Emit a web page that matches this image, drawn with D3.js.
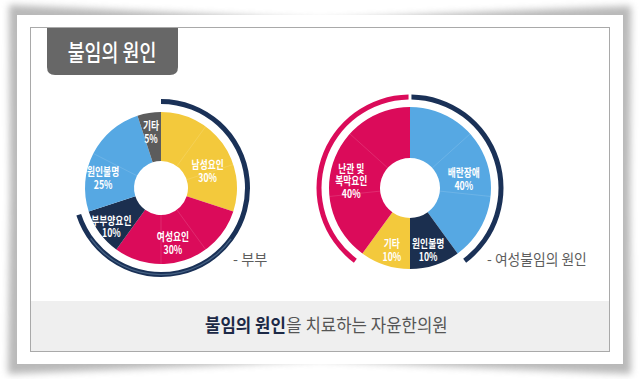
<!DOCTYPE html>
<html><head><meta charset="utf-8">
<script src="https://cdn.jsdelivr.net/npm/d3@7"></script>
<style>html,body{margin:0;padding:0;background:#fff;overflow:hidden}svg{display:block}</style>
</head><body><svg id="c" width="640" height="379"></svg>
<script>
// ---- data ----
const titleText = "불임의 원인";
const coupleCategories = ["남성요인", "여성요인", "부부양요인", "원인불명", "기타"];
const coupleValues = [30, 30, 10, 25, 5];
const coupleRingValues = [70, 30];          // 남성+여성+부부양 / rest
const coupleCaption = "- 부부";
const femaleCategories = ["배란장애", "원인불명", "기타", "난관 및 복막요인"];
const femaleLabelLines = [["배란장애"], ["원인불명"], ["기타"], ["난관 및", "복막요인"]];
const femaleValues = [40, 10, 10, 40];
const femaleRingValues = [40, 20, 40];      // 배란장애 / middle / 난관 및 복막요인
const femaleCaption = "- 여성불임의 원인";
const footerBold = "불임의 원인";
const footerRest = "을 치료하는 자윤한의원";

// ---- styles ----
const C = {yellow:"#f3c93c", pink:"#db0b5a", navy:"#1b2f4f", blue:"#56a8e3", gray:"#5c5c5c", ring:"#1a3157"};
const coupleColors = [C.yellow, C.pink, C.navy, C.blue, C.gray];
const femaleColors = [C.blue, C.navy, C.yellow, C.pink];
const FONT = "'Noto Sans CJK KR','Noto Sans',sans-serif";

const svg = d3.select("#c");
const defs = svg.append("defs");
const blur = defs.append("filter").attr("id","blur").attr("x","-10%").attr("y","-10%").attr("width","120%").attr("height","120%");
blur.append("feGaussianBlur").attr("stdDeviation", 3.5);

// paper shadow (curled corners)
const sh = d3.path();
sh.moveTo(9,5); sh.lineTo(200,14); sh.lineTo(320,20); sh.lineTo(440,14); sh.lineTo(631,6);
sh.lineTo(630,190); sh.lineTo(631,374);
sh.lineTo(440,366); sh.lineTo(320,360); sh.lineTo(200,366); sh.lineTo(8,374);
sh.lineTo(10,190); sh.closePath();
svg.append("path").attr("d", sh.toString()).attr("fill","#8a8a8a").attr("opacity",0.6).attr("filter","url(#blur)");
svg.append("rect").attr("x",17).attr("y",15).attr("width",606).attr("height",349).attr("fill","#fff");

// footer band + inner frame
svg.append("rect").attr("x",30.5).attr("y",301).attr("width",579).attr("height",50.5).attr("fill","#efefef");
svg.append("rect").attr("x",30.5).attr("y",27.5).attr("width",579).attr("height",324).attr("fill","none").attr("stroke","#a9a9a9").attr("stroke-width",1);

// title tab
const tp = d3.path();
const tx0 = 47, tx1 = 178, ty0 = 28, ty1 = 75, rr = 8;
tp.moveTo(tx0, ty0); tp.lineTo(tx1, ty0); tp.lineTo(tx1, ty1 - rr);
tp.quadraticCurveTo(tx1, ty1, tx1 - rr, ty1); tp.lineTo(tx0 + rr, ty1);
tp.quadraticCurveTo(tx0, ty1, tx0, ty1 - rr); tp.closePath();
svg.append("path").attr("d", tp.toString()).attr("fill","#676767");

function sText(g, lines, x, y, size, sx, opts) {
  opts = opts || {};
  if (!Array.isArray(lines)) lines = [lines];
  const lh = opts.lh || size * 1.2;
  const t = g.append("text")
    .attr("transform", `translate(${x},${y}) scale(${sx},1)`)
    .attr("font-family", FONT).attr("font-size", size)
    .attr("font-weight", opts.weight || "normal")
    .attr("fill", opts.fill || "#fff")
    .attr("text-anchor", opts.anchor || "middle")
    .attr("dominant-baseline", "central");
  lines.forEach((s, j) => {
    t.append("tspan").attr("x", 0).attr("y", (j - (lines.length - 1) / 2) * lh).text(s);
  });
  return t;
}
sText(svg, titleText, 112, 51, 23, 0.8, {weight:"500", fill:"#fff"});

// ---- donut builder ----
const pie = d3.pie().sort(null).value(d => d);
function donut(cfg) {
  const g = svg.append("g").attr("transform", `translate(${cfg.cx},${cfg.cy})`);
  const arcs = pie(cfg.values);
  const arc = d3.arc().innerRadius(cfg.r0).outerRadius(cfg.r1);
  g.selectAll("path.slice").data(arcs).join("path").attr("class","slice")
    .attr("d", arc).attr("fill", (d,i) => cfg.colors[i]);
  // faint decorative sub-divisions
  arcs.forEach((a, i) => {
    const n = cfg.subdiv[i];
    for (let k = 1; k < n; k++) {
      const ang = a.startAngle + (a.endAngle - a.startAngle) * k / n;
      g.append("line")
        .attr("x1", Math.sin(ang) * cfg.r0).attr("y1", -Math.cos(ang) * cfg.r0)
        .attr("x2", Math.sin(ang) * cfg.r1).attr("y2", -Math.cos(ang) * cfg.r1)
        .attr("stroke", "#fff").attr("stroke-opacity", 0.13).attr("stroke-width", 1);
    }
  });
  // labels
  arcs.forEach((a, i) => {
    const c = arc.centroid(a);
    const lines = cfg.labels[i].concat([a.data + "%"]);
    sText(g, lines, c[0] + cfg.nudge[i][0], c[1] + cfg.nudge[i][1], 11.5, 0.76, {weight:"bold", lh:12.8});
  });
  return g;
}

// ---- couple donut ----
const gL = donut({cx:161, cy:188, r0:27, r1:76, values:coupleValues, colors:coupleColors,
  labels: coupleCategories.map(s => [s]), subdiv:[3,3,1,2,1],
  nudge:[[5,12],[-4,5],[-8,7],[-12,12],[-2,-6]]});
const ringL = pie(coupleRingValues)[0];
const ringArcL = d3.arc().innerRadius(84).outerRadius(89);
gL.append("path").attr("d", ringArcL(ringL)).attr("fill", C.ring);
gL.append("path").attr("d", d3.arc().innerRadius(86).outerRadius(87.3)({startAngle: ringL.endAngle * 0.5, endAngle: ringL.endAngle * 0.93}))
  .attr("fill", "#6a88a8").attr("opacity", 0.55);

// ---- female donut ----
const gR = donut({cx:410, cy:188, r0:30, r1:81, values:femaleValues, colors:femaleColors,
  labels: femaleLabelLines, subdiv:[3,1,1,3],
  nudge:[[1,7],[1,8],[-1,8],[-6,9]]});
const ringR = pie(femaleRingValues);
const ringArcR = d3.arc().innerRadius(88.5).outerRadius(93.5).padAngle(0.032).padRadius(91);
gR.append("path").attr("d", ringArcR(ringR[0])).attr("fill", C.ring);
gR.append("path").attr("d", ringArcR(ringR[2])).attr("fill", C.pink);

// captions
sText(svg, coupleCaption, 233, 258, 15, 0.95, {fill:"#5d5d5d", anchor:"start"});
sText(svg, femaleCaption, 487, 258, 15, 0.92, {fill:"#5d5d5d", anchor:"start"});

// footer text
const fsx = 0.93;
const fb = sText(svg, footerBold, 205, 324, 18, fsx, {weight:"bold", fill:"#1c2946", anchor:"start"});
const fbw = fb.node().getBBox().width * fsx;
sText(svg, footerRest, 205 + fbw + 0.5, 324, 18, fsx, {fill:"#555", anchor:"start"});
</script></body></html>
